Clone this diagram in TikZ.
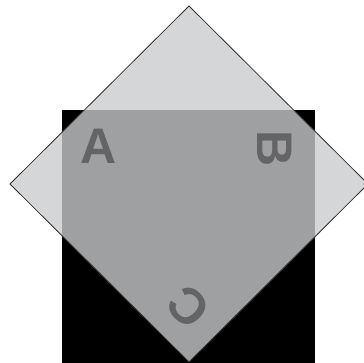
\documentclass[tikz,border=0pt]{standalone}
\usepackage{fontspec}
\setmainfont{Liberation Sans}
\definecolor{diamondfill}{RGB}{202,203,206}
\definecolor{lettergray}{RGB}{100,100,102}
\definecolor{edgegray}{RGB}{50,50,50}
\begin{document}
\begin{tikzpicture}[x=1pt,y=1pt,
  letter/.style={text=lettergray,font=\fontsize{50}{50}\selectfont\bfseries,inner sep=0pt}]
\useasboundingbox (0,0) rectangle (364,363);
\clip (0,0) rectangle (364,363);
\fill[white] (0,0) rectangle (364,363);
\fill[black] (62,-5) rectangle (315,253);
\draw[edgegray,line width=0.8pt,fill=diamondfill,fill opacity=0.79]
  (189,357) -- (10,179) -- (189,1) -- (368,179) -- cycle;
\node[letter] (a) at (99,216.5) {A};
\node[letter,rotate=-90] (b) at (274.5,214.5) {B};
\node[letter,rotate=135] (c) at (189,56) {C};
\end{tikzpicture}
\end{document}
